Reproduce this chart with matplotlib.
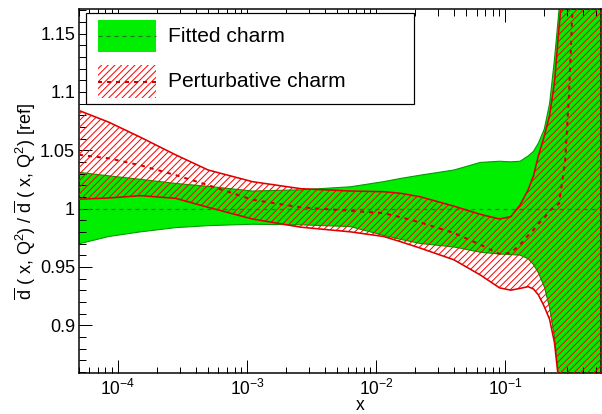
import matplotlib
matplotlib.use('Agg')
import matplotlib.pyplot as plt
from matplotlib.patches import Rectangle
from matplotlib.lines import Line2D
from matplotlib.ticker import MultipleLocator, FuncFormatter, LogLocator, NullFormatter

# ---------------- data ----------------
x = [5e-5, 8.5e-5, 1.5e-4, 2.8e-4, 5e-4, 1.1e-3, 2.6e-3, 6.3e-3, 0.0114, 0.0155,
     0.022, 0.04, 0.064, 0.09, 0.11, 0.13, 0.15, 0.165, 0.18, 0.2, 0.22, 0.24,
     0.26, 0.29, 0.31, 0.33, 0.4, 0.55]

fit_up = [1.031, 1.028, 1.025, 1.0215, 1.019, 1.015, 1.016, 1.0186, 1.023, 1.0258,
          1.0286, 1.033, 1.0395, 1.0405, 1.040, 1.0405, 1.045, 1.049, 1.056, 1.068,
          1.09, 1.128, 1.17, 1.22, 1.25, 1.28, 1.4, 1.6]
fit_lo = [0.9697, 0.976, 0.980, 0.9836, 0.9853, 0.9865, 0.986, 0.9845, 0.977, 0.9735,
          0.970, 0.967, 0.9625, 0.961, 0.9605, 0.960, 0.957, 0.952, 0.945, 0.933,
          0.915, 0.89, 0.852, 0.78, 0.75, 0.72, 0.6, 0.4]
ref_ratio = 1.0

pert_up = [1.084, 1.074, 1.061, 1.046, 1.033, 1.023, 1.017, 1.015, 1.0144, 1.013,
           1.010, 1.002, 0.995, 0.991, 0.993, 1.003, 1.016, 1.028, 1.045, 1.062,
           1.08, 1.108, 1.155, 1.21, 1.24, 1.27, 1.38, 1.55]
pert_lo = [1.008, 1.009, 1.011, 1.0087, 1.001, 0.991, 0.984, 0.980, 0.976, 0.9715,
           0.966, 0.956, 0.943, 0.932, 0.930, 0.9315, 0.933, 0.931, 0.926, 0.916,
           0.905, 0.885, 0.85, 0.78, 0.75, 0.72, 0.6, 0.4]
pert_c = [1.046, 1.043, 1.037, 1.0286, 1.020, 1.0075, 1.001, 0.998, 0.996, 0.9925,
          0.988, 0.979, 0.969, 0.961, 0.962, 0.969, 0.977, 0.9816, 0.987, 0.992,
          0.998, 1.002, 1.004, 1.040, 1.095, 1.167, 1.4, 1.8]

labels = ['Fitted charm', 'Perturbative charm']
xlim = (5e-5, 0.55)
ylim = (0.859, 1.171)

# ---------------- style ----------------
DPI = 80
W, H = 602, 414
plt.rcParams['font.family'] = ['Liberation Sans', 'DejaVu Sans']
plt.rcParams['mathtext.fontset'] = 'custom'
plt.rcParams['mathtext.rm'] = 'Liberation Sans'
plt.rcParams['mathtext.it'] = 'Liberation Sans'
plt.rcParams['mathtext.bf'] = 'Liberation Sans:bold'
plt.rcParams['hatch.linewidth'] = 0.9
plt.rcParams['lines.scale_dashes'] = False


def pt(v):
    return v * 72.0 / DPI


GREEN = '#00ee00'
GREEN_EDGE = '#009a00'
GREEN_DASH = '#2f6f2f'
RED = '#dd0000'
RED_HATCH = '#ff0000'
RED_DASH = '#cc0000'
HATCH = '////'

fig = plt.figure(figsize=(W / DPI, H / DPI), dpi=DPI)
ax = fig.add_axes([79 / W, 1 - 373 / H, 522 / W, 364 / H])

# fitted charm band
ax.fill_between(x, fit_lo, fit_up, facecolor=GREEN, edgecolor='none', zorder=1)
ax.plot(x, fit_up, color=GREEN_EDGE, lw=pt(1.1), zorder=2)
ax.plot(x, fit_lo, color=GREEN_EDGE, lw=pt(1.1), zorder=2)
ax.axhline(ref_ratio, color=GREEN_DASH, lw=pt(1.2), dashes=(pt(4), pt(4)), zorder=2)

# perturbative charm band
ax.fill_between(x, pert_lo, pert_up, facecolor='none', edgecolor=RED_HATCH,
                hatch=HATCH, linewidth=0, zorder=3)
ax.plot(x, pert_up, color=RED, lw=pt(1.6), zorder=4)
ax.plot(x, pert_lo, color=RED, lw=pt(1.6), zorder=4)
ax.plot(x, pert_c, color=RED_DASH, lw=pt(2.0), dashes=(pt(4), pt(5)), zorder=4)

ax.set_xscale('log')
ax.set_xlim(*xlim)
ax.set_ylim(*ylim)

ax.yaxis.set_major_locator(MultipleLocator(0.05))
ax.yaxis.set_minor_locator(MultipleLocator(0.01))
ax.yaxis.set_major_formatter(FuncFormatter(lambda v, p: '%g' % round(v, 4)))
ax.xaxis.set_major_locator(LogLocator(base=10, numticks=20))
ax.xaxis.set_minor_locator(LogLocator(base=10, subs=range(2, 10), numticks=20))
ax.xaxis.set_minor_formatter(NullFormatter())

ax.tick_params(which='both', direction='in', top=True, right=False, width=pt(1.0),
               color='black')
ax.tick_params(which='major', length=pt(13))
ax.tick_params(which='minor', length=pt(6.5))
ax.tick_params(axis='y', labelsize=pt(18), pad=pt(4))
ax.tick_params(axis='x', labelsize=pt(17.5), pad=pt(6))
for s in ax.spines.values():
    s.set_linewidth(pt(1.5))

# axis titles
fig.text(25 / W, 1 - 201 / H,
         r'$\overline{\mathrm{d}}$ ( x, Q$^{2}$) / $\overline{\mathrm{d}}$ ( x, Q$^{2}$) [ref]',
         rotation=90, ha='center', va='center', fontsize=pt(18))
fig.text(360 / W, 1 - 410 / H, r'$\mathrm{x}$', ha='center', va='baseline',
         fontsize=pt(17.5))

# legend (drawn in figure pixel coordinates)
def fbox(x0, y0, x1, y1, **kw):
    r = Rectangle((x0 / W, 1 - y1 / H), (x1 - x0) / W, (y1 - y0) / H,
                  transform=fig.transFigure, **kw)
    fig.add_artist(r)
    return r

fbox(86, 13, 414, 104, facecolor='white', edgecolor='black', lw=pt(1.2), zorder=5)
fbox(98, 20, 156, 52, facecolor=GREEN, edgecolor='none', zorder=6)
fig.add_artist(Line2D([98 / W, 156 / W], [1 - 36 / H, 1 - 36 / H], color=GREEN_DASH,
                      lw=pt(1.2), dashes=(pt(4), pt(4)), transform=fig.transFigure,
                      zorder=7))
fbox(98, 65, 156, 98, facecolor='white', edgecolor=RED_HATCH, hatch=HATCH, lw=0, zorder=6)
fig.add_artist(Line2D([98 / W, 156 / W], [1 - 81.5 / H, 1 - 81.5 / H], color=RED_DASH,
                      lw=pt(2.0), dashes=(pt(4), pt(5)), transform=fig.transFigure,
                      zorder=7))
fig.text(167.5 / W, 1 - 36 / H, labels[0], ha='left', va='center', fontsize=pt(21),
         zorder=8)
fig.text(167.5 / W, 1 - 81.5 / H, labels[1], ha='left', va='center', fontsize=pt(21),
         zorder=8)

fig.savefig('out.png', dpi=DPI)
